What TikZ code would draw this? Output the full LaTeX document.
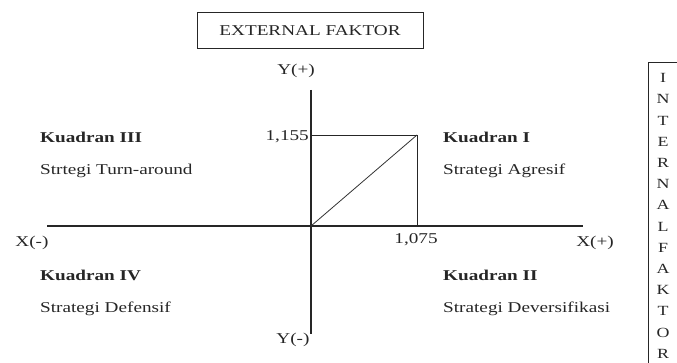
\documentclass[tikz,border=0pt]{standalone}
\usepackage{fontspec}
\setmainfont[FakeStretch=1.28]{Liberation Serif}
\begin{document}
\begin{tikzpicture}[x=1pt,y=-1pt,
  txt/.style={inner sep=0pt, font=\fontsize{15}{18}\selectfont, text=black!85},
  lbl/.style={txt, anchor=west},
  ttl/.style={txt, anchor=west, font=\fontsize{15}{18}\selectfont\bfseries},
  axis/.style={line width=1.3pt, draw=black!85},
  thin/.style={line width=0.9pt, draw=black!85}]
\useasboundingbox (0,0) rectangle (677,363);
% external faktor box
\node[txt, draw=black!85, line width=1pt, minimum width=226pt, minimum height=36pt] (ext) at (310,31) {EXTERNAL FAKTOR};
% axes
\coordinate (ytop) at (311,90);
\coordinate (ybot) at (311,334);
\coordinate (xl) at (47,226);
\coordinate (xr) at (583,226);
\coordinate (o) at (311,226);
\coordinate (p) at (417,135);
\coordinate (py) at (311,135);
\coordinate (px) at (417,226);
\draw[axis] (ytop) -- (ybot);
\draw[axis] (xl) -- (xr);
\draw[thin] (py) -- (p) -- (px);
\draw[line width=0.8pt, draw=black!80] (o) -- (p);
% axis labels
\node[txt] (yp) at (296,71) {Y(+)};
\node[txt] (ym) at (293,340) {Y(-)};
\node[txt] (xm) at (32,243) {X(-)};
\node[txt] (xp) at (595,243) {X(+)};
\node[txt, anchor=east] (v1) at (309,137) {1,155};
\node[txt] (v2) at (416,240) {1,075};
% quadrants
\node[ttl] (q3) at (40,137) {Kuadran III};
\node[lbl] (s3) at (40,171) {Strtegi Turn-around};
\node[ttl] (q1) at (443,137) {Kuadran I};
\node[lbl] (s1) at (443,171) {Strategi Agresif};
\node[ttl] (q4) at (40,275) {Kuadran IV};
\node[lbl] (s4) at (40,309) {Strategi Defensif};
\node[ttl] (q2) at (443,275) {Kuadran II};
\node[lbl] (s2) at (443,309) {Strategi Deversifikasi};
% internal faktor box (cut off at the edge)
\draw[line width=1pt, draw=black!85] (690,63) -- (648,63) -- (648,380);
\node[txt, align=center, font=\fontsize{14}{21.2}\selectfont] (int) at (663,216) {I\\N\\T\\E\\R\\N\\A\\L\\F\\A\\K\\T\\O\\R};
\end{tikzpicture}
\end{document}
